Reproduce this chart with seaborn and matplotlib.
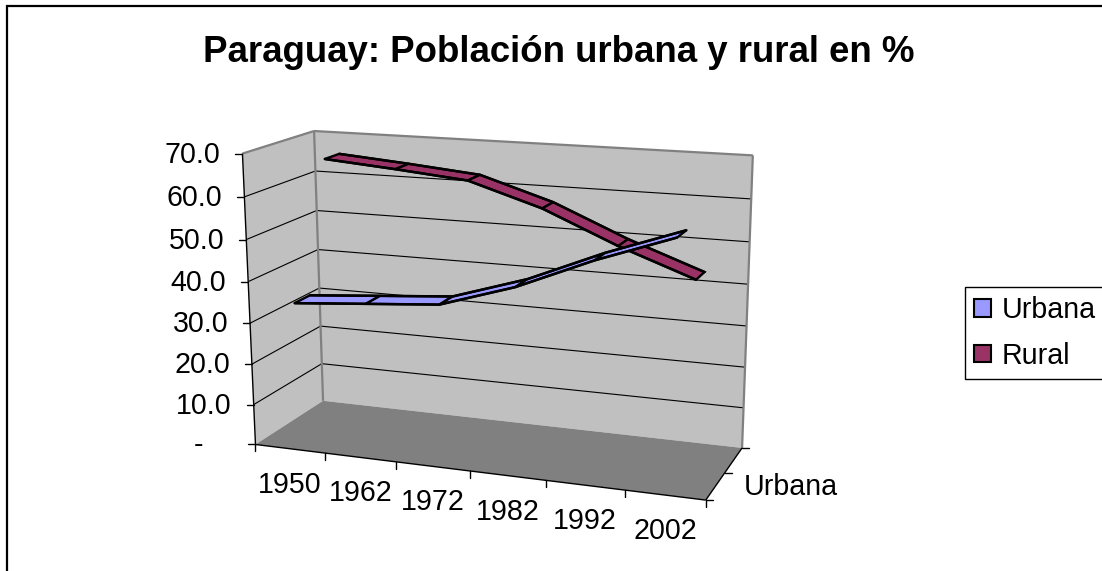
import numpy as np
import pandas as pd
import matplotlib
matplotlib.use("Agg")
import matplotlib.pyplot as plt
from matplotlib.patches import Patch
import seaborn as sns

years = ["1950", "1962", "1972", "1982", "1992", "2002"]
urbana = [34.4, 35.8, 37.2, 42.8, 50.3, 56.7]
rural = [65.6, 64.2, 62.6, 57.2, 49.7, 43.3]
y_ticks = [0, 10, 20, 30, 40, 50, 60, 70]
y_labels = ["-", "10.0", "20.0", "30.0", "40.0", "50.0", "60.0", "70.0"]
series_names = ["Urbana", "Rural"]
title = "Paraguay: Población urbana y rural en %"

C_URB, C_RUR, C_WALL, C_FLOOR = "#9999FF", "#993366", "#C0C0C0", "#808080"

sns.set_theme(style="white")
plt.rcParams["font.family"] = ["Liberation Sans", "DejaVu Sans"]

W, H = 1102, 571
FS = 20.6
fig = plt.figure(figsize=(W / 100, H / 100), dpi=100)
ax = fig.add_axes([0, 0, 1, 1])
ax.set_xlim(0, W)
ax.set_ylim(H, 0)
ax.axis("off")

# chart box frame -> camera: (u, v, w) = (category pos, value, depth) to page pixels
YMAX = 70.0
frame_world = np.array([
    [0, 0, 0], [1, 0, 0], [0, YMAX, 0], [0, YMAX, 1], [1, YMAX, 1], [0, 0, 1], [1, 0, 1],
    [1/6, 0, 0], [2/6, 0, 0], [3/6, 0, 0], [5/6, 0, 0],
    [0, 60, 1], [0, 50, 1], [0, 40, 1], [0, 30, 1], [0, 10, 1],
], float)
frame_page = np.array([
    [255.7, 445], [706.7, 499.3], [242.7, 153.3], [313.3, 130], [752.7, 155.7],
    [322.7, 400], [742.3, 448.3],
    [325, 453.5], [396.7, 462], [469.3, 471], [624, 490],
    [316, 171.7], [316.7, 211], [318.3, 249], [319.3, 289], [322, 363.3],
], float)
rows = []
for (a, b, c), (px, py) in zip(frame_world, frame_page):
    b = b / YMAX
    rows.append([a, b, c, 1, 0, 0, 0, 0, -px * a, -px * b, -px * c, -px])
    rows.append([0, 0, 0, 0, a, b, c, 1, -py * a, -py * b, -py * c, -py])
P = np.linalg.svd(np.array(rows))[2][-1].reshape(3, 4)


def proj(u, v, w):
    u, v, w = np.broadcast_arrays(np.asarray(u, float), np.asarray(v, float), np.asarray(w, float))
    h = np.stack([u, v / YMAX, w, np.ones_like(u, dtype=float)])
    q = P @ h.reshape(4, -1)
    return (q[0] / q[2]).reshape(u.shape), (q[1] / q[2]).reshape(u.shape)


def poly(pts, **kw):
    xy = np.array([proj(*p) for p in pts], float)
    ax.fill(xy[:, 0], xy[:, 1], **kw)


def seg(p0, p1, **kw):
    a, b = proj(*p0), proj(*p1)
    ax.plot([a[0], b[0]], [a[1], b[1]], solid_capstyle="butt", **kw)


# walls and floor
poly([(0, 0, 0), (0, YMAX, 0), (0, YMAX, 1), (0, 0, 1)], fc=C_WALL, ec="none", zorder=1)
poly([(0, 0, 1), (0, YMAX, 1), (1, YMAX, 1), (1, 0, 1)], fc=C_WALL, ec="none", zorder=1)
poly([(0, 0, 0), (1, 0, 0), (1, 0, 1), (0, 0, 1)], fc=C_FLOOR, ec="none", zorder=1)

for t in y_ticks[1:-1]:
    seg((0, t, 0), (0, t, 1), color="black", lw=0.8, zorder=2)
    seg((0, t, 1), (1, t, 1), color="black", lw=0.8, zorder=2)
for a, b in [((0, YMAX, 0), (0, YMAX, 1)), ((0, YMAX, 1), (1, YMAX, 1)),
             ((0, 0, 1), (0, YMAX, 1)), ((1, 0, 1), (1, YMAX, 1))]:
    seg(a, b, color=C_FLOOR, lw=1.6, zorder=2)

# axis lines
seg((0, 0, 0), (0, YMAX, 0), color="black", lw=1.0, zorder=3)
seg((0, 0, 0), (1, 0, 0), color="black", lw=1.0, zorder=3)
seg((1, 0, 0), (1, 0, 1), color="black", lw=1.0, zorder=3)

# value ticks and labels
for t, lab in zip(y_ticks, y_labels):
    x0, y0 = proj(0, t, 0)
    ax.plot([x0 - 7, x0], [y0, y0], color="black", lw=1.0, zorder=3)
    off = 52 if lab == "-" else 22
    ax.text(x0 - off, y0 + 1, lab, ha="right", va="center", fontsize=FS, color="black")

# category ticks and labels
n = len(years)
for i in range(n + 1):
    x0, y0 = proj(i / n, 0, 0)
    ax.plot([x0, x0], [y0, y0 + 7], color="black", lw=1.0, zorder=3)
for i, lab in enumerate(years):
    x0, y0 = proj((i + 0.5) / n, 0, 0)
    ax.text(x0, y0 + 36, lab, ha="center", va="center", fontsize=FS, color="black")

# series-axis ticks and label
for w in (0, 0.5, 1):
    x0, y0 = proj(1, 0, w)
    ax.plot([x0, x0 + 7], [y0, y0], color="black", lw=1.0, zorder=3)
x0, y0 = proj(1, 0, 0.25)
ax.text(x0 + 28, y0 + 1, series_names[0], ha="left", va="center", fontsize=FS, color="black")

# ribbons
u_pos = (np.arange(n) + 0.5) / n
ribbons = [("Rural", rural, C_RUR, 0.64, 0.86, 4), ("Urbana", urbana, C_URB, 0.14, 0.36, 6)]
for name, vals, col, z0, z1, zo in ribbons:
    vals = np.asarray(vals, float)
    for i in range(n - 1):
        poly([(u_pos[i], vals[i], z0), (u_pos[i + 1], vals[i + 1], z0),
              (u_pos[i + 1], vals[i + 1], z1), (u_pos[i], vals[i], z1)],
             fc=col, ec="black", lw=1.7, joinstyle="miter", zorder=zo)
    fx, fy = proj(u_pos, vals, z0)
    bx, by = proj(u_pos, vals, z1)
    edges = pd.DataFrame({
        "px": np.r_[fx, bx], "py": np.r_[fy, by],
        "edge": ["front"] * n + ["back"] * n,
    })
    sns.lineplot(data=edges, x="px", y="py", units="edge", estimator=None, sort=False,
                 color="black", lw=1.8, ax=ax, legend=False, zorder=zo + 1)
ax.set_xlim(0, W)
ax.set_ylim(H, 0)
ax.set_xlabel("")
ax.set_ylabel("")

# title
ax.text(559, 62, title, ha="center", va="baseline", fontsize=26.4, fontweight="bold", color="black")

# chart-area border (cropped at right and bottom)
ax.plot([7, 7, W + 5], [H + 5, 6, 6], color="black", lw=1.6, solid_joinstyle="miter", clip_on=False)

# legend
handles = [Patch(fc=C_URB, ec="black", lw=1.5, label=series_names[0]),
           Patch(fc=C_RUR, ec="black", lw=1.5, label=series_names[1])]
leg = ax.legend(handles=handles, loc="upper left", bbox_to_anchor=(965, 287), bbox_transform=ax.transData,
                fontsize=FS, frameon=True, fancybox=False, edgecolor="black", framealpha=1,
                labelcolor="black", borderaxespad=0, borderpad=0.33, handlelength=0.58,
                handleheight=0.58, handletextpad=0.38, labelspacing=0.6)
leg.get_frame().set_linewidth(1.0)

fig.savefig("out.png", dpi=100)
